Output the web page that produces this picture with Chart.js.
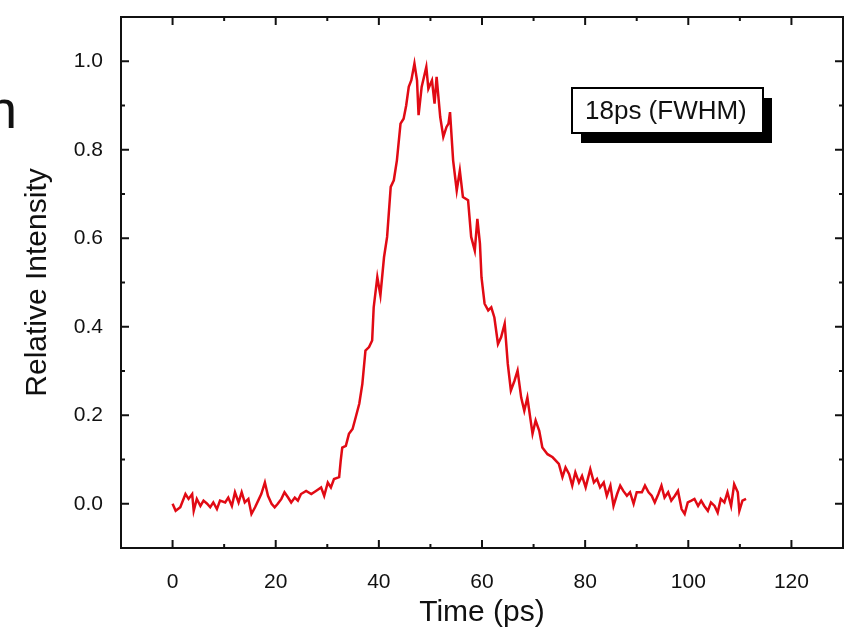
<!DOCTYPE html>
<html><head><meta charset="utf-8">
<script src="https://cdn.jsdelivr.net/npm/chart.js@4/dist/chart.umd.min.js"></script>
<style>html,body{margin:0;padding:0;background:#fff;} #wrap{position:relative;width:856px;height:636px;}</style>
</head><body><div id="wrap"><canvas id="c" width="856" height="636"></canvas></div>
<script>
const timePs = [0.0,0.6,1.5,2.5,3.1,3.8,4.1,4.7,5.4,6.0,6.7,7.3,7.9,8.6,9.2,10.2,10.8,11.5,12.1,12.8,13.4,14.0,14.7,15.3,16.0,16.6,17.2,17.9,18.5,19.2,19.8,20.4,21.1,21.7,22.4,23.0,23.7,24.3,24.9,25.9,26.9,27.8,28.8,29.4,30.1,30.7,31.3,32.3,32.6,32.9,33.6,34.2,34.9,35.5,36.2,36.8,37.4,38.1,38.7,39.0,39.7,40.3,41.0,41.6,42.3,42.9,43.5,44.2,44.8,45.3,45.8,46.3,46.9,47.4,47.7,48.3,49.2,49.6,50.3,50.8,51.2,51.9,52.5,53.1,53.5,53.8,54.4,55.1,55.7,56.3,57.3,57.9,58.6,59.1,59.6,59.9,60.5,61.2,61.8,62.4,63.1,63.7,64.4,65.0,65.6,66.3,66.9,67.6,68.2,68.8,69.8,70.4,71.1,71.7,72.7,73.7,74.9,75.6,76.2,76.9,77.5,78.1,78.8,79.4,80.1,81.0,81.7,82.3,82.9,83.6,84.2,84.9,85.5,86.2,86.8,87.4,88.1,88.7,89.4,90.0,91.0,91.6,92.3,92.9,93.5,94.2,94.8,95.4,96.1,96.7,97.4,98.0,98.7,99.3,99.9,100.6,101.2,101.9,102.5,103.1,103.8,104.4,105.1,105.7,106.3,107.0,107.6,108.3,108.9,109.6,109.9,110.5,111.2];
const relIntensity = [0.0,-0.016,-0.008,0.022,0.011,0.022,-0.016,0.011,-0.005,0.007,0.0,-0.008,0.003,-0.012,0.007,0.003,0.014,-0.005,0.026,0.003,0.026,0.003,0.011,-0.023,-0.008,0.007,0.022,0.048,0.018,0.0,-0.008,0.0,0.011,0.026,0.014,0.003,0.014,0.007,0.022,0.029,0.022,0.029,0.037,0.018,0.048,0.037,0.056,0.06,0.097,0.127,0.131,0.158,0.169,0.195,0.226,0.271,0.346,0.354,0.369,0.444,0.512,0.471,0.557,0.603,0.716,0.731,0.776,0.859,0.870,0.900,0.942,0.957,0.995,0.957,0.878,0.942,0.987,0.938,0.957,0.904,0.965,0.874,0.829,0.851,0.859,0.885,0.776,0.708,0.753,0.693,0.686,0.603,0.572,0.644,0.588,0.512,0.452,0.437,0.444,0.421,0.361,0.376,0.407,0.316,0.256,0.278,0.301,0.240,0.210,0.240,0.158,0.188,0.165,0.127,0.112,0.105,0.090,0.060,0.082,0.067,0.041,0.071,0.048,0.063,0.037,0.078,0.048,0.056,0.037,0.048,0.018,0.041,-0.005,0.022,0.041,0.029,0.018,0.026,0.0,0.026,0.026,0.041,0.026,0.018,0.003,0.022,0.041,0.014,0.026,0.007,0.018,0.029,-0.012,-0.023,0.003,0.007,0.011,-0.005,0.007,-0.005,-0.016,0.003,-0.005,-0.020,0.011,0.003,0.026,-0.005,0.044,0.026,-0.016,0.007,0.011];
const xTickValues = [0,20,40,60,80,100,120];
const yTickValues = [0,0.2,0.4,0.6,0.8,1.0];
const xMinorValues = [10,30,50,70,90,110];
const yMinorValues = [0.1,0.3,0.5,0.7,0.9];
const xAxisTitle = 'Time (ps)';
const yAxisTitle = 'Relative Intensity';
const annotationText = '18ps (FWHM)';
const clippedText = 'n';

const FONT = '"Liberation Sans", Arial, sans-serif';

const framePlugin = {
  id: 'frame',
  afterDatasetsDraw(chart) {
    const {ctx, chartArea: a, scales: {x, y}} = chart;
    ctx.save();
    ctx.strokeStyle = '#111';
    ctx.lineWidth = 2;
    ctx.strokeRect(a.left, a.top, a.right - a.left, a.bottom - a.top);
    const tick = (x1, y1, x2, y2) => { ctx.beginPath(); ctx.moveTo(x1, y1); ctx.lineTo(x2, y2); ctx.stroke(); };
    xTickValues.forEach(v => { const px = x.getPixelForValue(v); tick(px, a.bottom, px, a.bottom - 8); tick(px, a.top, px, a.top + 8); });
    xMinorValues.forEach(v => { const px = x.getPixelForValue(v); tick(px, a.bottom, px, a.bottom - 4); tick(px, a.top, px, a.top + 4); });
    yTickValues.forEach(v => { const py = y.getPixelForValue(v); tick(a.left, py, a.left + 8, py); tick(a.right, py, a.right - 8, py); });
    yMinorValues.forEach(v => { const py = y.getPixelForValue(v); tick(a.left, py, a.left + 4, py); tick(a.right, py, a.right - 4, py); });
    // annotation box
    const bx = 572, by = 88, bw = 191, bh = 45;
    ctx.fillStyle = '#000';
    ctx.fillRect(bx + 9, by + 10, bw, bh);
    ctx.fillStyle = '#fff';
    ctx.fillRect(bx, by, bw, bh);
    ctx.strokeStyle = '#000';
    ctx.lineWidth = 2;
    ctx.strokeRect(bx, by, bw, bh);
    ctx.fillStyle = '#111';
    ctx.font = '26px ' + FONT;
    ctx.textBaseline = 'middle';
    ctx.textAlign = 'left';
    ctx.fillText(annotationText, bx + 13, by + bh / 2 + 1);
    // clipped text fragment at left edge
    ctx.font = '54px ' + FONT;
    ctx.textAlign = 'right';
    ctx.textBaseline = 'alphabetic';
    ctx.fillText(clippedText, 17, 128);
    ctx.restore();
  }
};

new Chart(document.getElementById('c'), {
  type: 'line',
  data: {
    datasets: [{
      data: timePs.map((t, i) => ({x: t, y: relIntensity[i]})),
      borderColor: 'rgb(225,10,20)',
      borderWidth: 2.5,
      pointRadius: 0,
      tension: 0,
      fill: false
    }]
  },
  options: {
    responsive: false,
    animation: false,
    devicePixelRatio: 1,
    layout: {padding: {left: 0, top: 17, right: 13, bottom: 0}},
    plugins: {legend: {display: false}, tooltip: {enabled: false}},
    scales: {
      x: {
        type: 'linear', min: -10, max: 130, position: 'bottom',
        grid: {display: false}, border: {display: false},
        afterBuildTicks: s => { s.ticks = xTickValues.map(v => ({value: v})); },
        afterFit: s => { s.height = 88; s.paddingLeft = 0; s.paddingRight = 0; },
        ticks: {font: {family: FONT, size: 21}, color: '#111', padding: 14, maxRotation: 0, callback: v => String(v)},
        title: {display: true, text: xAxisTitle, font: {family: FONT, size: 30}, color: '#111', padding: {bottom: 5, top: 0}}
      },
      y: {
        type: 'linear', min: -0.1, max: 1.1,
        grid: {display: false}, border: {display: false},
        afterBuildTicks: s => { s.ticks = yTickValues.map(v => ({value: v})); },
        afterFit: s => { s.width = 121; s.paddingTop = 0; s.paddingBottom = 0; },
        ticks: {font: {family: FONT, size: 21}, color: '#111', padding: 10, callback: v => Number(v).toFixed(1)},
        title: {display: true, text: yAxisTitle, font: {family: FONT, size: 30}, color: '#111', padding: {top: 20, bottom: 0}}
      }
    }
  },
  plugins: [framePlugin]
});
</script></body></html>
